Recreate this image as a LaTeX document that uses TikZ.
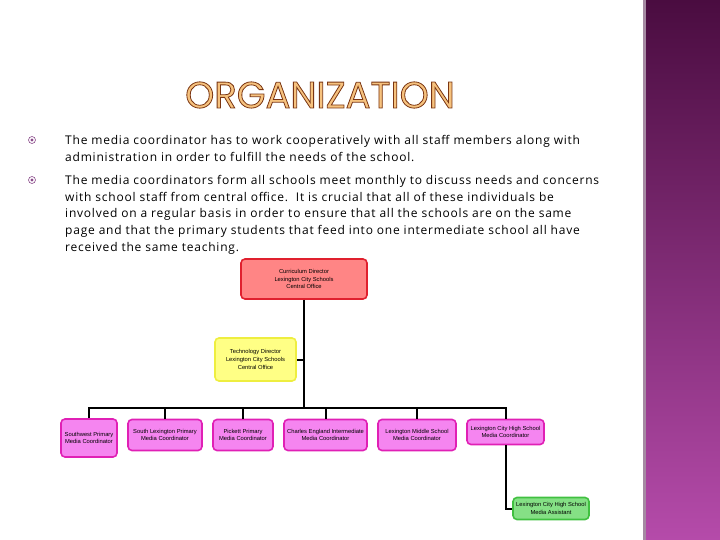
\documentclass[tikz,border=0pt]{standalone}
\usepackage{fontspec}
\setmainfont{Open Sans}[LetterSpace=6.5]
\newfontfamily\titlefont{Poppins}
\newfontfamily\chartfont{Liberation Sans}
\usetikzlibrary{positioning}

\definecolor{stripTop}{HTML}{4A0C40}
\definecolor{stripBot}{HTML}{B54BAA}
\definecolor{stripEdge}{HTML}{A58AA2}
\definecolor{bulletPurple}{HTML}{8A4A8A}
\definecolor{titleFill}{HTML}{F6C27E}
\definecolor{curFill}{HTML}{FF8585}
\definecolor{curLine}{HTML}{E0202E}
\definecolor{techFill}{HTML}{FFFF85}
\definecolor{techLine}{HTML}{EEEE40}
\definecolor{mediaFill}{HTML}{F585F0}
\definecolor{mediaLine}{HTML}{E020B5}
\definecolor{asstFill}{HTML}{85E085}
\definecolor{asstLine}{HTML}{40C040}

% outlined letters: fill in the current colour, brown stroke
\newcommand\outlined[1]{\special{pdf:literal direct 2 Tr 0.8 w 0.478 0.208 0.071 RG}#1\special{pdf:literal direct 0 Tr}}

\begin{document}
\begin{tikzpicture}[x=1pt, y=-1pt,
  every node/.style={align=center},
  box/.style={draw, rounded corners=4pt, line width=1.6pt, inner sep=2pt,
    font=\chartfont\fontsize{5.8}{7.6}\selectfont},
  curbox/.style={box, fill=curFill, draw=curLine},
  techbox/.style={box, fill=techFill, draw=techLine},
  mediabox/.style={box, fill=mediaFill, draw=mediaLine},
  asstbox/.style={box, fill=asstFill, draw=asstLine},
  bullet/.style={circle, draw=bulletPurple, line width=0.6pt, minimum size=7pt, inner sep=0pt,
    path picture={\fill[bulletPurple] (path picture bounding box.center) circle (1.7pt);}},
  bodytext/.style={align=left, inner sep=0pt, font=\fontsize{12}{16.7}\selectfont},
  link/.style={line width=2pt, black}
]
\useasboundingbox (0,0) rectangle (720,540);

% Side strip
\shade[top color=stripTop, bottom color=stripBot] (643,0) rectangle (720,540);
\fill[stripEdge] (643,0) rectangle (645.5,540);

% Title
\node[font=\titlefont\fontsize{37}{37}\selectfont] (title) at (320,95)
  {\textcolor{titleFill}{\outlined{ORGANIZATION}}};

% Bullets
\node[bullet] (dot1) at (32,140) {};
\node[bodytext, anchor=north west] (text1) at (65,135)
  {The media coordinator has to work cooperatively with all staff members along with\\
   administration in order to fulfill the needs of the school.};
\node[bullet] (dot2) at (32,180) {};
\node[bodytext, anchor=north west] (text2) at (65,175)
  {The media coordinators form all schools meet monthly to discuss needs and concerns\\
   with school staff from central office.\ \ It is crucial that all of these individuals be\\
   involved on a regular basis in order to ensure that all the schools are on the same\\
   page and that the primary students that feed into one intermediate school all have\\
   received the same teaching.};

% Chart
\node[curbox, minimum width=126pt, minimum height=40pt] (cur) at (304,279)
  {Curriculum Director\\Lexington City Schools\\Central Office};
\node[techbox, minimum width=81pt, minimum height=43pt] (tech) at (255.5,359.5)
  {Technology Director\\Lexington City Schools\\Central Office};
\coordinate (bus) at (304,408);

\node[mediabox, minimum width=56pt, minimum height=38pt] (sw) at (89,438)
  {Southwest Primary\\Media Coordinator};
\node[mediabox, minimum width=74pt, minimum height=31pt] (slp) at (165,435)
  {South Lexington Primary\\Media Coordinator};
\node[mediabox, minimum width=60pt, minimum height=31pt] (pp) at (243,435)
  {Pickett Primary\\Media Coordinator};
\node[mediabox, minimum width=83pt, minimum height=31pt] (cei) at (325.5,435)
  {Charles England Intermediate\\Media Coordinator};
\node[mediabox, minimum width=78pt, minimum height=31pt] (lms) at (417,435)
  {Lexington Middle School\\Media Coordinator};
\node[mediabox, minimum width=77pt, minimum height=25pt] (lch) at (505.5,432)
  {Lexington City High School\\Media Coordinator};
\node[asstbox, minimum width=76pt, minimum height=22pt] (asst) at (551,508.5)
  {Lexington City High School\\Media Assistant};

% Connectors
\draw[link] (cur.south) -- (bus);
\draw[link] (tech.east) -- (tech.east -| bus);
\draw[link] (sw.north) -- (sw.north |- bus) -- (lch.north |- bus) -- (lch.north);
\foreach \n in {slp, pp, cei, lms}
  \draw[link] (\n.north) -- (\n.north |- bus);
\draw[link] (lch.south) |- (asst.west);

\end{tikzpicture}
\end{document}
